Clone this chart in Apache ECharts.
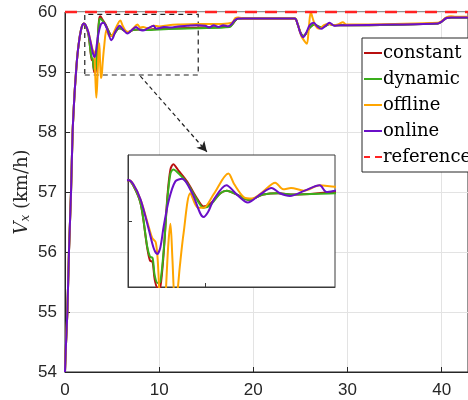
<!DOCTYPE html>
<html>
<head>
<meta charset="utf-8">
<script src="https://cdn.jsdelivr.net/npm/echarts@6/dist/echarts.min.js"></script>
<style>
html,body{margin:0;padding:0;background:#fff;}
#c{width:468px;height:400px;}
</style>
</head>
<body>
<div id="c"></div>
<script>
// shared start-up transient (all controllers)
const riseT = [0, 0.1, 0.25, 0.42, 0.64, 0.81, 1.0, 1.15, 1.3, 1.5, 1.7, 1.85, 2.0];
const riseV = [54, 54.45, 55, 56, 57, 58, 58.6, 58.95, 59.25, 59.52, 59.7, 59.78, 59.81];

const constantT = [2.2, 2.49, 2.74, 2.85, 2.95, 3.03, 3.15, 3.25, 3.38, 3.52, 3.64, 3.75, 3.96, 4.28, 4.67, 4.92, 5.18, 5.57, 5.82, 6.21, 6.65, 7.23, 7.8, 8.4, 10, 12, 14, 17.5, 17.8, 18.1, 18.4, 24.4, 24.7, 25.0, 25.3, 25.6, 26.0, 26.5, 27.1, 27.6, 28.1, 28.6, 30, 39.6, 40, 40.5, 41, 42.8];
const constantV = [59.77, 59.63, 59.3, 59.2, 59.19, 59.06, 58.99, 59.0, 59.26, 59.68, 59.89, 59.93, 59.88, 59.8, 59.67, 59.61, 59.63, 59.71, 59.73, 59.7, 59.66, 59.7, 59.71, 59.7, 59.72, 59.73, 59.74, 59.76, 59.8, 59.86, 59.89, 59.89, 59.8, 59.66, 59.6, 59.64, 59.74, 59.79, 59.75, 59.76, 59.8, 59.78, 59.78, 59.81, 59.84, 59.9, 59.91, 59.91];

const dynamicT = [2.2, 2.49, 2.74, 2.85, 2.95, 3.03, 3.15, 3.25, 3.38, 3.52, 3.64, 3.75, 3.96, 4.28, 4.67, 4.92, 5.18, 5.57, 5.82, 6.21, 6.65, 7.23, 7.8, 8.4, 10, 12, 14, 17.5, 17.8, 18.1, 18.4, 24.4, 24.7, 25.0, 25.3, 25.6, 26.0, 26.5, 27.1, 27.6, 28.1, 28.6, 30, 39.6, 40, 40.5, 41, 42.8];
const dynamicV = [59.77, 59.63, 59.31, 59.23, 59.22, 59.09, 59.03, 59.04, 59.28, 59.66, 59.86, 59.89, 59.86, 59.79, 59.66, 59.6, 59.62, 59.71, 59.73, 59.7, 59.66, 59.7, 59.71, 59.7, 59.71, 59.72, 59.73, 59.75, 59.8, 59.86, 59.89, 59.89, 59.8, 59.66, 59.6, 59.64, 59.74, 59.79, 59.75, 59.76, 59.8, 59.78, 59.78, 59.81, 59.84, 59.9, 59.91, 59.91];

const offlineT = [2.2, 2.49, 2.81, 2.94, 3.07, 3.15, 3.25, 3.33, 3.42, 3.55, 3.64, 3.72, 3.81, 3.9, 4.0, 4.15, 4.41, 4.7, 4.92, 5.3, 5.88, 6.1, 6.48, 6.8, 7.2, 7.69, 8.0, 8.3, 8.8, 9.41, 10, 11, 12, 14, 16, 17.3, 17.8, 18.1, 18.4, 19, 24.4, 24.7, 25.1, 25.5, 25.7, 25.9, 26.1, 26.3, 26.6, 27.0, 27.5, 28.0, 28.6, 29.1, 29.5, 29.9, 30.5, 35, 39.6, 40.0, 40.5, 41.0, 41.5, 42.8];
const offlineV = [59.78, 59.66, 59.45, 59.37, 59.34, 59.2, 58.8, 58.57, 58.8, 59.3, 59.48, 59.2, 58.9, 58.95, 59.15, 59.41, 59.71, 59.6, 59.6, 59.7, 59.86, 59.78, 59.68, 59.67, 59.72, 59.79, 59.74, 59.75, 59.73, 59.77, 59.76, 59.78, 59.79, 59.8, 59.8, 59.81, 59.83, 59.9, 59.91, 59.89, 59.89, 59.8, 59.6, 59.5, 59.47, 59.75, 60.0, 59.9, 59.77, 59.72, 59.78, 59.8, 59.78, 59.8, 59.83, 59.79, 59.79, 59.8, 59.82, 59.85, 59.91, 59.93, 59.92, 59.92];

const onlineT = [2.2, 2.49, 2.81, 3.0, 3.13, 3.25, 3.38, 3.58, 3.83, 4.09, 4.48, 4.92, 5.1, 5.31, 5.8, 6.21, 6.63, 7.1, 7.55, 7.87, 8.26, 8.83, 9.41, 9.67, 10.0, 10.5, 11.2, 12, 13, 14, 14.9, 15.3, 15.8, 16.3, 16.8, 17.3, 17.7, 18.0, 18.4, 20, 24.4, 24.7, 25.0, 25.3, 25.6, 26.0, 26.4, 26.8, 27.2, 27.6, 28.1, 28.6, 29.2, 30, 35, 39.6, 40.0, 40.5, 41, 42.8];
const onlineV = [59.78, 59.66, 59.43, 59.29, 59.25, 59.3, 59.46, 59.66, 59.8, 59.82, 59.71, 59.53, 59.57, 59.66, 59.77, 59.7, 59.64, 59.7, 59.75, 59.71, 59.69, 59.73, 59.77, 59.72, 59.73, 59.75, 59.74, 59.76, 59.77, 59.78, 59.77, 59.74, 59.78, 59.75, 59.78, 59.76, 59.8, 59.86, 59.89, 59.89, 59.89, 59.8, 59.65, 59.58, 59.65, 59.78, 59.82, 59.76, 59.72, 59.76, 59.82, 59.77, 59.78, 59.78, 59.79, 59.81, 59.84, 59.9, 59.91, 59.91];

const referenceT = [0, 42.8];
const referenceV = [60, 60];

const xTicks = [0, 10, 20, 30, 40];
const yTicks = [54, 55, 56, 57, 58, 59, 60];
const zoomBox = [[2.1, 58.95], [14.15, 59.96]];
const arrowLine = [[8.0, 58.93], [15.07, 57.67]];

function pairs(t, v, pre) {
  const out = [];
  if (pre) for (let i = 0; i < riseT.length; i++) out.push([riseT[i], riseV[i]]);
  for (let i = 0; i < t.length; i++) out.push([t[i], v[i]]);
  return out;
}

const colors = {constant: '#b80f0f', dynamic: '#3aae1c', offline: '#ffa500', online: '#6a0fc8', reference: '#ff2222'};
const defs = [
  ['constant', constantT, constantV],
  ['dynamic', dynamicT, dynamicV],
  ['offline', offlineT, offlineV],
  ['online', onlineT, onlineV]
];

const series = [];
defs.forEach(function (d, i) {
  const s = {
    name: d[0], type: 'line', data: pairs(d[1], d[2], true),
    xAxisIndex: 0, yAxisIndex: 0, symbol: 'none', smooth: 0.3,
    lineStyle: {color: colors[d[0]], width: 2}, itemStyle: {color: colors[d[0]]},
    z: 2 + i * 0.1, animation: false
  };
  if (i === 0) {
    s.markArea = {
      silent: true,
      itemStyle: {color: 'rgba(0,0,0,0)', borderColor: '#222', borderWidth: 1.2, borderType: [5, 4]},
      data: [[{coord: zoomBox[0]}, {coord: zoomBox[1]}]]
    };
    s.markLine = {
      silent: true, symbol: ['none', 'arrow'], symbolSize: [8, 10],
      label: {show: false},
      lineStyle: {color: '#222', width: 1.2, type: [4, 3]},
      data: [[{coord: arrowLine[0]}, {coord: arrowLine[1]}]]
    };
  }
  series.push(s);
});
series.push({
  name: 'reference', type: 'line', data: pairs(referenceT, referenceV, false),
  xAxisIndex: 0, yAxisIndex: 0, symbol: 'none', clip: false,
  lineStyle: {color: colors.reference, width: 2.5, type: [12, 8]}, itemStyle: {color: colors.reference},
  z: 3, animation: false
});
defs.forEach(function (d, i) {
  series.push({
    name: d[0], type: 'line', data: pairs(d[1], d[2], true),
    xAxisIndex: 1, yAxisIndex: 1, symbol: 'none', smooth: 0.3, clip: true,
    lineStyle: {color: colors[d[0]], width: 2}, itemStyle: {color: colors[d[0]]},
    z: 10 + i * 0.1, animation: false
  });
});

const tickFont = {fontFamily: 'Liberation Sans, Arial, sans-serif', fontSize: 17, color: '#262626'};
const lineIcon = 'path://M0,0h18v2h-18z';
const dashIcon = 'path://M0,0h6v2h-6z M11,0h7v2h-7z';

const option = {
  animation: false,
  backgroundColor: '#fff',
  grid: [
    {left: 65, top: 12, right: 0, bottom: 28, show: true, borderColor: '#262626', borderWidth: 1, backgroundColor: 'rgba(0,0,0,0)', outerBoundsMode: 'none', containLabel: false},
    {left: 128, top: 155, width: 207, height: 132, show: true, backgroundColor: '#fff', borderColor: '#3a3a3a', borderWidth: 1, z: 5, outerBoundsMode: 'none', containLabel: false}
  ],
  xAxis: [
    {type: 'value', gridIndex: 0, min: 0, max: 42.8, interval: 10,
     axisLine: {show: true, onZero: false, lineStyle: {color: '#262626', width: 1}},
     axisTick: {show: true, inside: true, length: 5, lineStyle: {color: '#262626'}, customValues: xTicks},
     axisLabel: Object.assign({margin: 10, customValues: xTicks}, tickFont),
     splitLine: {show: true, lineStyle: {color: '#e3e3e3', width: 1}}},
    {type: 'value', gridIndex: 1, min: 2, max: 10, z: 6,
     axisLine: {show: true, onZero: false, lineStyle: {color: '#3a3a3a'}},
     axisTick: {show: true, inside: true, length: 4, customValues: [5], lineStyle: {color: '#3a3a3a'}},
     axisLabel: {show: false}, splitLine: {show: false}}
  ],
  yAxis: [
    {type: 'value', gridIndex: 0, min: 54, max: 60, interval: 1,
     name: '{v|V}{s|x} (km/h)', nameLocation: 'middle', nameGap: 33, nameRotate: 90, nameMoveOverlap: false,
     nameTextStyle: {fontFamily: 'DejaVu Serif, serif', fontSize: 18, color: '#262626',
       rich: {v: {fontFamily: 'DejaVu Serif, serif', fontStyle: 'italic', fontSize: 18, color: '#262626'},
              s: {fontFamily: 'DejaVu Serif, serif', fontStyle: 'italic', fontSize: 12, color: '#262626', padding: [8, 0, 0, 0]}}},
     axisLine: {show: true, onZero: false, lineStyle: {color: '#262626', width: 1}},
     axisTick: {show: true, inside: true, length: 5, lineStyle: {color: '#262626'}},
     axisLabel: Object.assign({margin: 8}, tickFont),
     splitLine: {show: true, lineStyle: {color: '#e3e3e3', width: 1}}},
    {type: 'value', gridIndex: 1, min: 59, max: 60, z: 6,
     axisLine: {show: true, onZero: false, lineStyle: {color: '#3a3a3a'}},
     axisTick: {show: true, inside: true, length: 4, customValues: [59.5], lineStyle: {color: '#3a3a3a'}},
     axisLabel: {show: false}, splitLine: {show: false}}
  ],
  legend: {
    orient: 'vertical', left: 362, top: 38,
    data: [
      {name: 'constant', icon: lineIcon},
      {name: 'dynamic', icon: lineIcon},
      {name: 'offline', icon: lineIcon},
      {name: 'online', icon: lineIcon},
      {name: 'reference', icon: dashIcon}
    ],
    itemWidth: 18, itemHeight: 2, itemGap: 8,
    backgroundColor: '#fff', borderColor: '#262626', borderWidth: 1, borderRadius: 0,
    padding: [6, 14, 6, 2],
    textStyle: {fontFamily: 'DejaVu Serif, serif', fontSize: 18, color: '#000', padding: [0, 0, 0, -4]},
    z: 20
  },
  series: series
};

const chart = echarts.init(document.getElementById('c'), null, {renderer: 'canvas'});
chart.setOption(option);
</script>
</body>
</html>
